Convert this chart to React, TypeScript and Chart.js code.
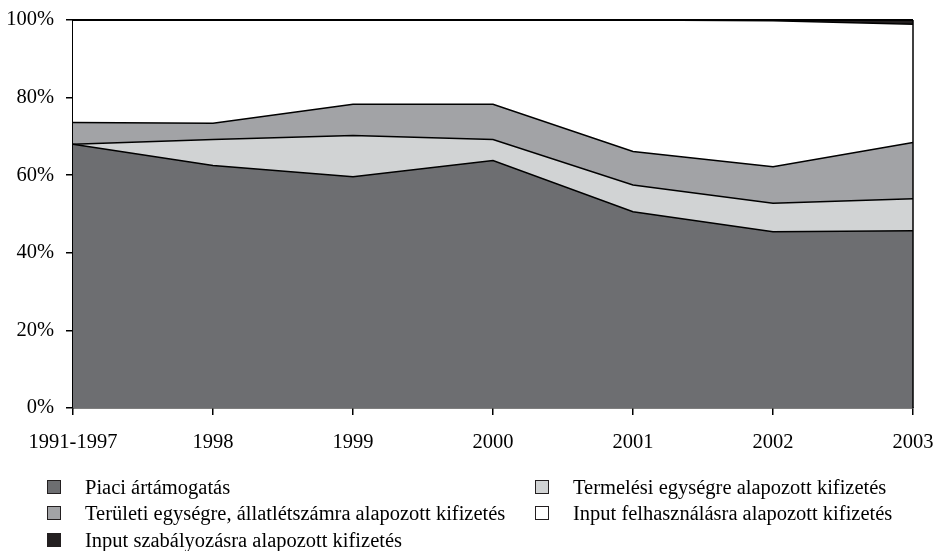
import React, { useEffect, useRef } from "react";
import { Chart, registerables } from "chart.js";

Chart.register(...registerables);

const categories = ["1991-1997", "1998", "1999", "2000", "2001", "2002", "2003"];
const piaci = [68.0, 62.5, 59.6, 63.8, 50.6, 45.4, 45.7];
const termelesi = [0.0, 6.7, 10.6, 5.4, 6.9, 7.4, 8.2];
const teruleti = [5.6, 4.2, 8.1, 9.1, 8.6, 9.4, 14.5];
const inputFelh = [26.4, 26.6, 21.7, 21.7, 33.9, 37.6, 30.5];
const inputSzab = [0.0, 0.0, 0.0, 0.0, 0.0, 0.2, 1.1];
const yTicks = [0, 20, 40, 60, 80, 100];

const names = [
  "Piaci ártámogatás",
  "Termelési egységre alapozott kifizetés",
  "Területi egységre, állatlétszámra alapozott kifizetés",
  "Input felhasználásra alapozott kifizetés",
  "Input szabályozásra alapozott kifizetés",
];
const colors = ["#6d6e71", "#d1d3d4", "#a2a3a6", "#ffffff", "#231f20"];

const FONT = '"Liberation Serif", "Times New Roman", serif';
const FS = 20.5;

const edgePlugin = {
  id: "edge",
  afterDatasetsDraw(chart: any) {
    const { ctx, chartArea } = chart;
    ctx.save();
    ctx.strokeStyle = "#000";
    ctx.lineWidth = 1.5;
    ctx.beginPath();
    ctx.moveTo(chartArea.right, chartArea.top);
    ctx.lineTo(chartArea.right, chartArea.bottom);
    ctx.stroke();
    ctx.lineWidth = 2;
    ctx.beginPath();
    ctx.moveTo(chartArea.left, chartArea.top);
    ctx.lineTo(chartArea.right, chartArea.top);
    ctx.stroke();
    ctx.restore();
  },
};

export default function App() {
  const ref = useRef<HTMLCanvasElement>(null);

  useEffect(() => {
    const series = [piaci, termelesi, teruleti, inputFelh, inputSzab];
    const chart = new Chart(ref.current!, {
      type: "line",
      data: {
        labels: categories,
        datasets: series.map((d, i) => ({
          label: names[i],
          data: d,
          backgroundColor: colors[i],
          borderColor: "#000",
          borderWidth: 1.5,
          pointRadius: 0,
          tension: 0,
          fill: i === 0 ? "origin" : "-1",
        })),
      },
      options: {
        animation: false,
        responsive: false,
        maintainAspectRatio: false,
        layout: { padding: { left: 0, right: 21, top: 20, bottom: 0 } },
        plugins: { legend: { display: false }, tooltip: { enabled: false } },
        scales: {
          x: {
            type: "category",
            offset: false,
            grid: { drawOnChartArea: false, drawTicks: true, tickLength: 7, color: "#000", lineWidth: 1.5 },
            border: { display: true, color: "#000", width: 1.5 },
            ticks: { color: "#000", font: { family: FONT, size: FS }, padding: 15, maxRotation: 0, autoSkip: false },
            afterFit: (s: any) => {
              s.height = 551 - 408;
              s.paddingLeft = 0;
              s.paddingRight = 0;
            },
          },
          y: {
            stacked: true,
            min: 0,
            max: 100,
            afterBuildTicks: (s: any) => { s.ticks = yTicks.map((v) => ({ value: v })); },
            grid: { drawOnChartArea: false, drawTicks: true, tickLength: 7, color: "#000", lineWidth: 1.5 },
            border: { display: true, color: "#000", width: 1.5 },
            ticks: {
              color: "#000",
              font: { family: FONT, size: FS },
              padding: 12,
              callback: (v: any) => v + "%",
            },
            afterFit: (s: any) => {
              s.width = 73;
              s.paddingTop = 0;
              s.paddingBottom = 0;
            },
          },
        },
      },
      plugins: [edgePlugin],
    });
    return () => chart.destroy();
  }, []);

  const legendItems = [
    { i: 0, x: 47, y: 487 },
    { i: 2, x: 47, y: 513 },
    { i: 4, x: 47, y: 540 },
    { i: 1, x: 535, y: 487 },
    { i: 3, x: 535, y: 513 },
  ];

  return (
    <div style={{ position: "absolute", left: 0, top: 0, width: 934, height: 551, background: "#fff" }}>
      <canvas ref={ref} width={934} height={551} style={{ position: "absolute", left: 0, top: 0, width: 934, height: 551 }} />
      {legendItems.map(({ i, x, y }) => (
        <div
          key={i}
          style={{
            position: "absolute",
            left: x,
            top: y - 12,
            height: 24,
            display: "flex",
            alignItems: "center",
            fontFamily: FONT,
            fontSize: FS,
            color: "#000",
            whiteSpace: "nowrap",
          }}
        >
          <span
            style={{
              display: "inline-block",
              width: 12,
              height: 12,
              background: colors[i],
              border: "1px solid #231f20",
              marginRight: 24,
              flexShrink: 0,
            }}
          />
          <span>{names[i]}</span>
        </div>
      ))}
    </div>
  );
}
